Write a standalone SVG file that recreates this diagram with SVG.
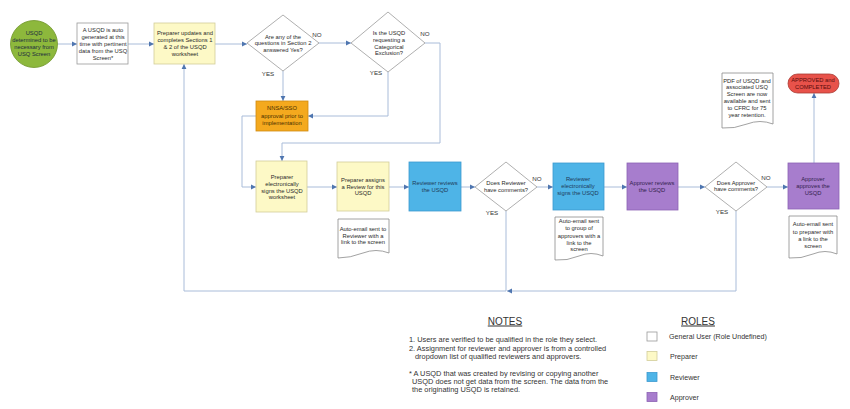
<svg xmlns="http://www.w3.org/2000/svg" width="850" height="409" viewBox="0 0 850 409">
<style>
text{font-family:"Liberation Sans",Arial,sans-serif;font-size:5.8px;fill:#2a2a2a;text-anchor:middle}
.lbl{font-size:6.2px;fill:#333}
.note{font-size:7.4px;text-anchor:start;fill:#333}
.head{font-size:10px;fill:#333;text-decoration:underline}
.leg{font-size:7.1px;text-anchor:start;fill:#333}
.gen{fill:#fff;stroke:#9a9a9a;stroke-width:0.8}
.prep{fill:#FDF9C6;stroke:#D2CD9A;stroke-width:0.8}
.rev{fill:#4EB4E7;stroke:#3C9AD0;stroke-width:0.8}
.appr{fill:#A77DCD;stroke:#8C63B4;stroke-width:0.8}
.dia{fill:#fff;stroke:#9a9a9a;stroke-width:0.8}
.doc{fill:#fff;stroke:#8a8a8a;stroke-width:0.8}
.con{fill:none;stroke:#A9BCD9;stroke-width:1}
.revt{fill:#1e3b5a}
</style>
<defs>
<marker id="ah" markerUnits="userSpaceOnUse" markerWidth="6" markerHeight="6" refX="5" refY="3" orient="auto">
<path d="M0,0.6 L5,3 L0,5.4 z" fill="#4F76B0"/>
</marker>
</defs>
<rect width="850" height="409" fill="#fff"/>

<g id="connectors">
<path class="con" d="M58,44 H77" marker-end="url(#ah)"/>
<path class="con" d="M128,44 H154" marker-end="url(#ah)"/>
<path class="con" d="M215,44 H247" marker-end="url(#ah)"/>
<path class="con" d="M319,43 H351" marker-end="url(#ah)"/>
<path class="con" d="M425,43 H440 V143 H282 V161" marker-end="url(#ah)"/>
<path class="con" d="M283,71 V101" marker-end="url(#ah)"/>
<path class="con" d="M388,72 V116 H308" marker-end="url(#ah)"/>
<path class="con" d="M256,116 H242 V187 H256" marker-end="url(#ah)"/>
<path class="con" d="M307,187 H337" marker-end="url(#ah)"/>
<path class="con" d="M389,187 H409" marker-end="url(#ah)"/>
<path class="con" d="M461,187 H475" marker-end="url(#ah)"/>
<path class="con" d="M537,187 H553" marker-end="url(#ah)"/>
<path class="con" d="M604,187 H627" marker-end="url(#ah)"/>
<path class="con" d="M678,187 H705" marker-end="url(#ah)"/>
<path class="con" d="M767,187 H788" marker-end="url(#ah)"/>
<path class="con" d="M814,163 V93" marker-end="url(#ah)"/>
<path class="con" d="M736,211 V291 H507" marker-end="url(#ah)"/>
<path class="con" d="M506,211 V291 H184 V64" marker-end="url(#ah)"/>
</g>

<g id="start">
<circle cx="34" cy="44" r="23.5" fill="#8DB83C" stroke="#6E9428" stroke-width="0.8"/>
<text style="fill:#1c2b3f"><tspan x="34" y="35.3">USQD</tspan><tspan x="34" y="42.3">determined to be</tspan><tspan x="34" y="49.3">necessary from</tspan><tspan x="34" y="55.8">USQ Screen</tspan></text>
</g>

<g id="autogen">
<rect class="gen" x="77" y="23" width="51" height="41"/>
<text><tspan x="103" y="32.3">A USQD is auto</tspan><tspan x="103" y="39.1">generated at this</tspan><tspan x="103" y="45.8">time with pertinent</tspan><tspan x="103" y="52.8">data from the USQ</tspan><tspan x="103" y="59.6">Screen*</tspan></text>
</g>

<g id="prep-update">
<rect class="prep" x="154" y="23" width="61" height="41"/>
<text><tspan x="185" y="35.1">Preparer updates and</tspan><tspan x="185" y="42.1">completes Sections 1</tspan><tspan x="185" y="49.1">&amp; 2 of the USQD</tspan><tspan x="185" y="56.1">worksheet</tspan></text>
</g>

<g id="dec-section2">
<polygon class="dia" points="283,15 319,43 283,71 247,43"/>
<text><tspan x="283" y="39.1">Are any of the</tspan><tspan x="283" y="45.3">questions in Section 2</tspan><tspan x="283" y="52.1">answered Yes?</tspan></text>
<text class="lbl" x="317" y="36.5">NO</text>
<text class="lbl" x="268" y="75.5">YES</text>
</g>

<g id="dec-catex">
<polygon class="dia" points="388,12 425,43 388,72 351,43"/>
<text><tspan x="389" y="35.1">Is the USQD</tspan><tspan x="389" y="42.1">requesting a</tspan><tspan x="389" y="49.1">Categorical</tspan><tspan x="389" y="55.3">Exclusion?</tspan></text>
<text class="lbl" x="425" y="35.5">NO</text>
<text class="lbl" x="376" y="74.5">YES</text>
</g>

<g id="nnsa">
<rect x="256" y="101" width="52" height="30" fill="#F4A91E" stroke="#D08A10" stroke-width="0.8"/>
<text style="fill:#4a3000"><tspan x="282" y="110.1">NNSA/SSO</tspan><tspan x="282" y="118.1">approval prior to</tspan><tspan x="282" y="125.1">implementation</tspan></text>
</g>

<g id="prep-sign">
<rect class="prep" x="256" y="161" width="51" height="51"/>
<text><tspan x="282" y="179.1">Preparer</tspan><tspan x="282" y="186.1">electronically</tspan><tspan x="282" y="193.1">signs the USQD</tspan><tspan x="282" y="199.3">worksheet</tspan></text>
</g>

<g id="prep-assign">
<rect class="prep" x="337" y="162" width="52" height="49"/>
<text><tspan x="363" y="182.1">Preparer assigns</tspan><tspan x="363" y="189.1">a Review for this</tspan><tspan x="363" y="195.3">USQD</tspan></text>
</g>

<g id="email-reviewer">
<path class="doc" d="M338,219 H389 V253 Q376,248 363,253 T338,258 Z"/>
<text><tspan x="363" y="231.1">Auto-email sent to</tspan><tspan x="363" y="238.1">Reviewer with a</tspan><tspan x="363" y="244.3">link to the screen</tspan></text>
</g>

<g id="rev-review">
<rect class="rev" x="409" y="162" width="52" height="49"/>
<text class="revt"><tspan x="435" y="185.1">Reviewer reviews</tspan><tspan x="435" y="192.1">the USQD</tspan></text>
</g>

<g id="dec-rev">
<polygon class="dia" points="506,162 537,187 506,211 475,187"/>
<text><tspan x="506" y="185.1">Does Reviewer</tspan><tspan x="506" y="192.1">have comments?</tspan></text>
<text class="lbl" x="537" y="180.5">NO</text>
<text class="lbl" x="492" y="214.5">YES</text>
</g>

<g id="rev-sign">
<rect class="rev" x="553" y="163" width="51" height="47"/>
<text class="revt"><tspan x="578" y="181.1">Reviewer</tspan><tspan x="578" y="188.1">electronically</tspan><tspan x="578" y="195.1">signs the USQD</tspan></text>
</g>

<g id="email-approvers">
<path class="doc" d="M555,217 H603 V256 Q591,251 579,256 T555,260 Z"/>
<text><tspan x="579" y="223.1">Auto-email sent</tspan><tspan x="579" y="230.1">to group of</tspan><tspan x="579" y="238.1">approvers with a</tspan><tspan x="579" y="245.1">link to the</tspan><tspan x="579" y="251.1">screen</tspan></text>
</g>

<g id="appr-review">
<rect class="appr" x="627" y="163" width="51" height="47"/>
<text style="fill:#33224d"><tspan x="652" y="185.1">Approver reviews</tspan><tspan x="652" y="192.1">the USQD</tspan></text>
</g>

<g id="dec-appr">
<polygon class="dia" points="736,162 767,187 736,211 705,187"/>
<text><tspan x="736" y="185.1">Does Approver</tspan><tspan x="736" y="191.3">have comments?</tspan></text>
<text class="lbl" x="766" y="179.5">NO</text>
<text class="lbl" x="722" y="213.5">YES</text>
</g>

<g id="appr-approve">
<rect class="appr" x="788" y="163" width="51" height="46"/>
<text style="fill:#33224d"><tspan x="813" y="181.1">Approver</tspan><tspan x="813" y="188.1">approves the</tspan><tspan x="813" y="195.1">USQD</tspan></text>
</g>

<g id="email-preparer">
<path class="doc" d="M789,216 H837 V254 Q825,249 813,254 T789,258 Z"/>
<text><tspan x="813" y="226.1">Auto-email sent</tspan><tspan x="813" y="234.1">to preparer with</tspan><tspan x="813" y="241.1">a link to the</tspan><tspan x="813" y="248.1">screen</tspan></text>
</g>

<g id="pdf-doc">
<path class="doc" d="M722,73 H773 V124 Q760,119 747,124 T722,128 Z"/>
<text><tspan x="747" y="83.1">PDF of USQD and</tspan><tspan x="747" y="89.3">associated USQ</tspan><tspan x="747" y="96.1">Screen are now</tspan><tspan x="747" y="103.1">available and sent</tspan><tspan x="747" y="110.1">to CFRC for 75</tspan><tspan x="747" y="117.1">year retention.</tspan></text>
</g>

<g id="completed">
<rect x="788" y="74" width="51" height="19" rx="9.5" fill="#E8524A" stroke="#A83A32" stroke-width="0.8"/>
<text style="fill:#5a0c0c"><tspan x="813" y="82.1">APPROVED and</tspan><tspan x="813" y="89.1">COMPLETED</tspan></text>
</g>

<g id="notes">
<text class="head" x="505" y="324.5">NOTES</text>
<text class="note" x="409" y="342.3">1. Users are verified to be qualified in the role they select.</text>
<text class="note" x="409" y="350.8">2. Assignment for reviewer and approver is from a controlled</text>
<text class="note" x="415" y="359.3">dropdown list of qualified reviewers and approvers.</text>
<text class="note" x="409" y="375.8">* A USQD that was created by revising or copying another</text>
<text class="note" x="412" y="384.3">USQD does not get data from the screen.  The data from the</text>
<text class="note" x="412" y="392.3">the originating USQD is retained.</text>
</g>

<g id="roles">
<text class="head" x="698" y="324.5">ROLES</text>
<rect class="gen" x="647" y="332" width="10" height="9"/>
<text class="leg" x="669" y="338.5">General User (Role Undefined)</text>
<rect class="prep" x="647" y="351.5" width="10" height="9"/>
<text class="leg" x="670" y="358.5">Preparer</text>
<rect class="rev" x="647" y="372.5" width="10" height="9"/>
<text class="leg" x="670" y="379.5">Reviewer</text>
<rect class="appr" x="647" y="392.5" width="10" height="9"/>
<text class="leg" x="670" y="399.5">Approver</text>
</g>
</svg>
